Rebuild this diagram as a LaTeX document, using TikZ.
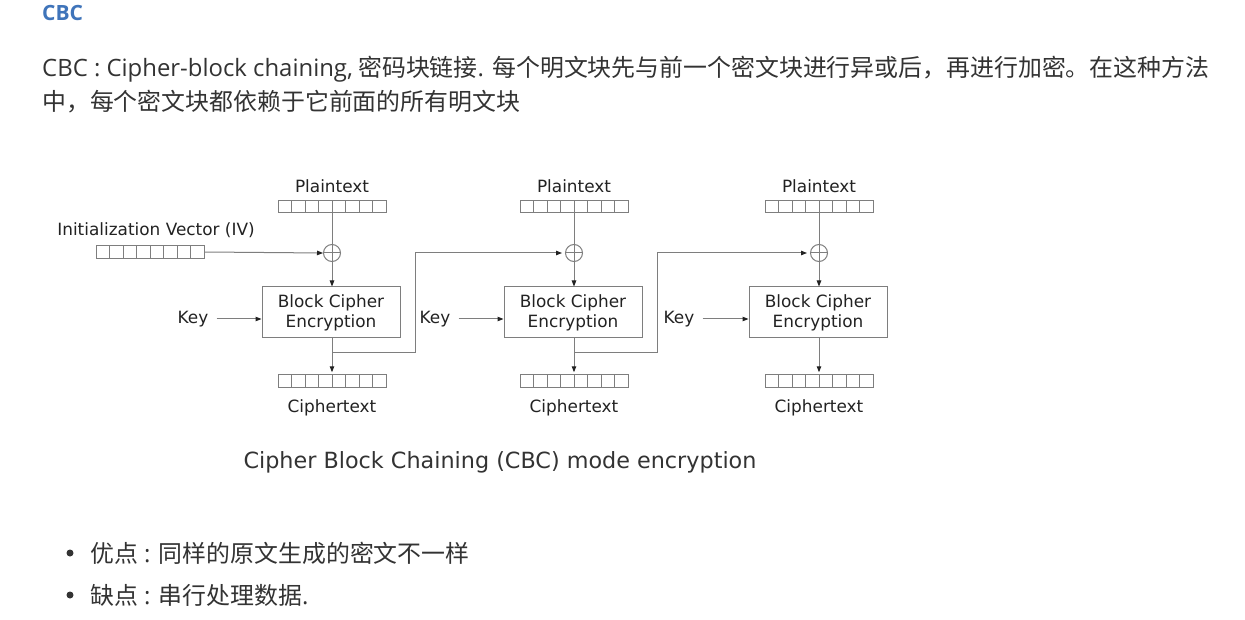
\documentclass[tikz,border=0pt]{standalone}
\usepackage{fontspec}
\setmainfont{Noto Sans CJK SC}
\newfontfamily\latinfont{Open Sans}
\newfontfamily\diagfont{DejaVu Sans}
\usetikzlibrary{arrows.meta, positioning}
\definecolor{ctext}{HTML}{333333}
\definecolor{ctitle}{HTML}{3F74BA}
\definecolor{cline}{HTML}{7E7E7E}
\definecolor{cdark}{HTML}{222222}
\tikzset{
  title/.style={anchor=base west, inner sep=0pt, text=ctitle, font=\latinfont\bfseries\fontsize{21}{24}\selectfont},
  para/.style={anchor=base west, inner sep=0pt, text=ctext, font=\fontsize{23.9}{28}\selectfont},
  lbl/.style={text=cdark, inner sep=0pt, font=\diagfont\fontsize{16.9}{20}\selectfont},
  blocks/.style={draw=cline, line width=1pt, minimum width=108pt, minimum height=12.5pt, inner sep=0pt,
    path picture={\foreach \k in {1,...,7}{\draw[cline, line width=1pt]
      ([xshift=\k*13.5pt]path picture bounding box.south west) --
      ([xshift=\k*13.5pt]path picture bounding box.north west);}}},
  encbox/.style={lbl, draw=cline, line width=1pt, minimum width=138pt, minimum height=51pt, align=center},
  xorsym/.style={circle, draw=cline, line width=1pt, minimum size=17pt, inner sep=0pt,
    path picture={\draw[cline, line width=1pt]
      (path picture bounding box.north) -- (path picture bounding box.south)
      (path picture bounding box.west) -- (path picture bounding box.east);}},
  wire/.style={draw=cline, line width=1pt},
  arr/.style={wire, -{Triangle[length=6pt, width=4.5pt, color=cdark]}},
  dot/.style={circle, fill=ctext, inner sep=0pt, minimum size=7pt},
}
\begin{document}
\begin{tikzpicture}[x=1pt, y=-1pt]
  \useasboundingbox[fill=white] (0,0) rectangle (1245,620);

  %% Heading and paragraph
  \node[title] (head) at (42,21) {CBC};
  \node[para] (line1) at (42,77) {{\latinfont CBC : Cipher-block chaining,} 密码块链接{\latinfont . }每个明文块先与前一个密文块进行异或后，再进行加密。在这种方法};
  \node[para] (line2) at (42,111) {中，每个密文块都依赖于它前面的所有明文块};

  %% IV
  \node[lbl] (ivlbl) at (156,230) {Initialization Vector (IV)};
  \node[blocks] (iv) at (150,252) {};

  %% Column 1
  \node[lbl] (plbl1) at (332,186) {Plaintext};
  \node[blocks] (pt1) at (332,206.5) {};
  \node[xorsym] (xor1) at (332,253) {};
  \node[encbox] (enc1) at (331,312.5) {Block Cipher\\Encryption};
  \node[lbl] (key1) at (193,319) {Key};
  \node[blocks] (ct1) at (332,381) {};
  \node[lbl] (clbl1) at (332,408) {Ciphertext};
  \draw[arr] (iv.east) -- (xor1.west);
  \draw[wire] (pt1.south) -- (xor1.north);
  \draw[arr] (xor1.south) -- (xor1.south |- enc1.north);
  \draw[arr, shorten <=8pt] (key1.east) -- (key1.east -| enc1.west);
  \draw[arr, shorten >=2pt] (enc1.south -| ct1) -- (ct1.north);

  %% Column 2
  \node[lbl] (plbl2) at (574,186) {Plaintext};
  \node[blocks] (pt2) at (574,206.5) {};
  \node[xorsym] (xor2) at (574,253) {};
  \node[encbox] (enc2) at (573,312.5) {Block Cipher\\Encryption};
  \node[lbl] (key2) at (435,319) {Key};
  \node[blocks] (ct2) at (574,381) {};
  \node[lbl] (clbl2) at (574,408) {Ciphertext};
  \draw[wire] (pt2.south) -- (xor2.north);
  \draw[arr] (xor2.south) -- (xor2.south |- enc2.north);
  \draw[arr, shorten <=8pt] (key2.east) -- (key2.east -| enc2.west);
  \draw[arr, shorten >=2pt] (enc2.south -| ct2) -- (ct2.north);

  %% Column 3
  \node[lbl] (plbl3) at (819,186) {Plaintext};
  \node[blocks] (pt3) at (819,206.5) {};
  \node[xorsym] (xor3) at (819,253) {};
  \node[encbox] (enc3) at (818,312.5) {Block Cipher\\Encryption};
  \node[lbl] (key3) at (679,319) {Key};
  \node[blocks] (ct3) at (819,381) {};
  \node[lbl] (clbl3) at (819,408) {Ciphertext};
  \draw[wire] (pt3.south) -- (xor3.north);
  \draw[arr] (xor3.south) -- (xor3.south |- enc3.north);
  \draw[arr, shorten <=8pt] (key3.east) -- (key3.east -| enc3.west);
  \draw[arr, shorten >=2pt] (enc3.south -| ct3) -- (ct3.north);

  %% Chaining
  \coordinate (br1) at (332,352);
  \coordinate (up1) at (415,352);
  \draw[arr, shorten >=3pt] (br1) -- (up1) |- (xor2.west);
  \coordinate (br2) at (574,352);
  \coordinate (up2) at (657,352);
  \draw[arr, shorten >=3pt] (br2) -- (up2) |- (xor3.west);

  %% Caption
  \node[lbl, text=ctext, font=\diagfont\fontsize{22.3}{26}\selectfont] (cap) at (500,462) {Cipher Block Chaining (CBC) mode encryption};

  %% Pros and cons
  \node[dot] (b1) at (70,553) {};
  \node[para] (pro) at (90,562) {优点{\latinfont\ : }同样的原文生成的密文不一样};
  \node[dot] (b2) at (70,595) {};
  \node[para] (con) at (90,604) {缺点{\latinfont\ : }串行处理数据{\latinfont .}};
\end{tikzpicture}
\end{document}
